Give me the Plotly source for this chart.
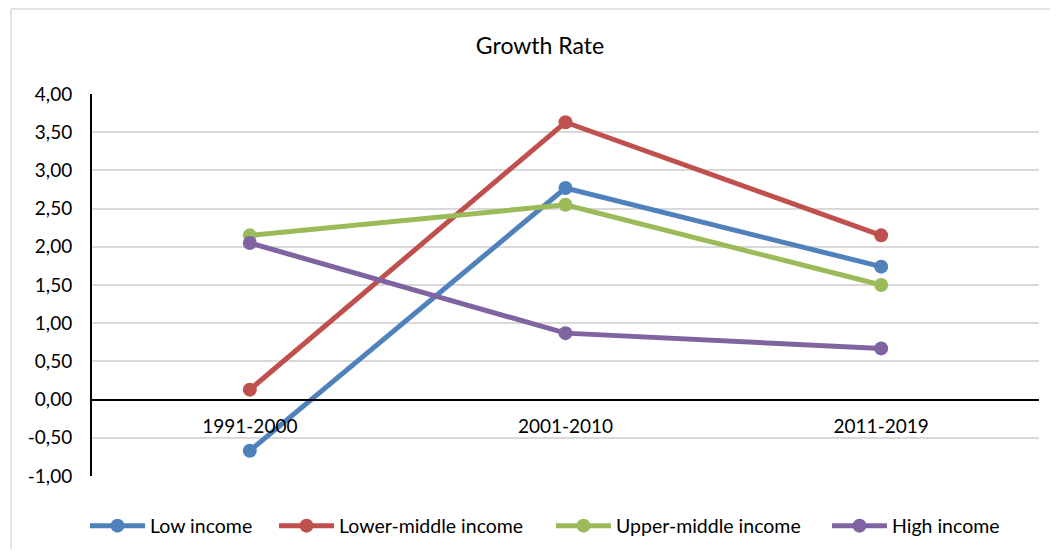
import plotly.graph_objects as go

categories = ["1991-2000", "2001-2010", "2011-2019"]
low_income = [-0.67, 2.77, 1.74]
lower_middle_income = [0.13, 3.63, 2.15]
upper_middle_income = [2.15, 2.55, 1.50]
high_income = [2.05, 0.87, 0.67]
series_names = ["Low income", "Lower-middle income", "Upper-middle income", "High income"]
y_tick_vals = [-1, -0.5, 0, 0.5, 1, 1.5, 2, 2.5, 3, 3.5, 4]
y_tick_text = ["-1,00", "-0,50", "0,00", "0,50", "1,00", "1,50", "2,00", "2,50", "3,00", "3,50", "4,00"]

colors = ["#4F81BD", "#C0504D", "#9BBB59", "#8064A2"]
FONT = "Lato, 'Open Sans', sans-serif"

OFF = 8  # page body margin offset
W, H = 1058 - 2 * OFF, 557 - 2 * OFF
L, T = 92 - OFF, 94 - OFF
R = W - (1039 - OFF)
B = H - (476 - OFF)
pw = W - L - R
ph = H - T - B

legend_ids = ["legend", "legend2", "legend3", "legend4"]
legend_left_px = [91, 280, 557, 833]

fig = go.Figure()
for name, vals, c, lid in zip(series_names, [low_income, lower_middle_income, upper_middle_income, high_income], colors, legend_ids):
    fig.add_trace(go.Scatter(
        x=categories, y=vals, name=name, mode="lines+markers",
        line=dict(color=c, width=5),
        marker=dict(color=c, size=14),
        legend=lid,
    ))

legend_layout = {}
for lid, px in zip(legend_ids, legend_left_px):
    legend_layout[lid] = dict(
        orientation="h", x=(px - OFF - 6) / W, xanchor="left", xref="container",
        y=1 - (526 - OFF) / H, yref="container", yanchor="middle",
        font=dict(family=FONT, size=19.5), itemwidth=55, bgcolor="rgba(0,0,0,0)",
    )

fig.update_layout(
    width=W, height=H,
    margin=dict(l=L, r=R, t=T, b=B, autoexpand=False),
    paper_bgcolor="white", plot_bgcolor="white",
    font=dict(family=FONT, size=19, color="#000000"),
    title=dict(text="Growth Rate", x=(540 - OFF) / W, xref="container", xanchor="center",
               y=1 - (46 - OFF) / H, yref="container", yanchor="middle",
               font=dict(family=FONT, size=23, color="#000000")),
    showlegend=True,
    xaxis=dict(
        type="category", range=[-0.5, 2.5],
        anchor="free", position=(0 - (-1)) / 5,
        showline=True, linecolor="#000000", linewidth=2,
        showgrid=False, zeroline=False, ticks="", ticklabelstandoff=10,
        tickfont=dict(family=FONT, size=19),
    ),
    yaxis=dict(
        range=[-1, 4], tickvals=y_tick_vals, ticktext=y_tick_text,
        showline=True, linecolor="#000000", linewidth=2,
        showgrid=True, gridcolor="#D9D9D9", gridwidth=1.5,
        zeroline=False, ticks="", ticklabelstandoff=14,
        tickfont=dict(family=FONT, size=19),
    ),
    **legend_layout,
)

# outer chart frame: only its left and top edges are visible in the reference
fx0 = (11 - OFF - L) / pw
fx1 = (W + 5 - L) / pw
fy_top = (ph + T - (9 - OFF)) / ph
fy_bot = -(B + 5) / ph
frame = dict(color="#D9D9D9", width=1.5)
fig.add_shape(type="line", xref="paper", yref="paper", x0=fx0, x1=fx0, y0=fy_bot, y1=fy_top, line=frame, layer="below")
fig.add_shape(type="line", xref="paper", yref="paper", x0=fx0, x1=fx1, y0=fy_top, y1=fy_top, line=frame, layer="below")

fig.write_html("out.html")
